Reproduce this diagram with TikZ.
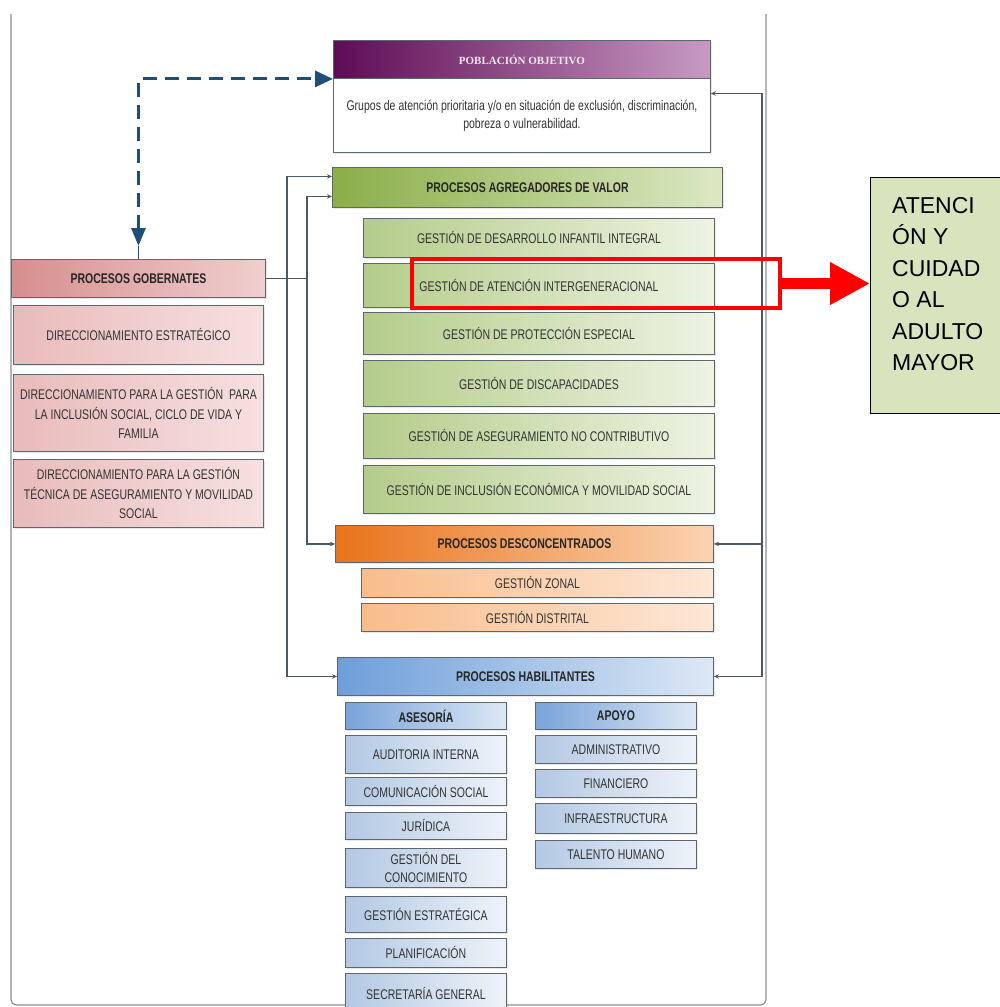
\documentclass[tikz,border=0pt]{standalone}
\usepackage{fontspec}
\setmainfont{Liberation Sans}
\newfontfamily\nar[FakeStretch=0.75]{Liberation Sans}
\newfontfamily\pobfont{Liberation Serif}
\usetikzlibrary{arrows.meta,shadows}

\definecolor{edge}{HTML}{5D6770}
\definecolor{wire}{HTML}{4D5863}
\definecolor{ink}{HTML}{333333}
\definecolor{navy}{HTML}{1F4E79}
\definecolor{framec}{HTML}{8A9095}
\definecolor{oldgreen}{HTML}{D7E4BD}

% box placed by its top-left and bottom-right corners
\newcommand{\procbox}[7]{%
  \pgfmathsetmacro\pbw{#4-#2}\pgfmathsetmacro\pbh{#5-#3}%
  \node[#6, minimum width=\pbw pt, minimum height=\pbh pt, anchor=north west] (#1) at (#2,#3) {#7};}

\tikzset{
  base/.style={draw=edge, line width=0.9pt, inner sep=0pt, align=center, text=ink,
    font=\nar\fontsize{14}{18}\selectfont,
    drop shadow={opacity=0.18, shadow xshift=1.2pt, shadow yshift=-1.2pt}},
  head/.style={base, font=\nar\bfseries\fontsize{14}{18}\selectfont, text=black!85},
  pobh/.style={head, left color=pobA, right color=pobB, text=pobT,
    font=\pobfont\bfseries\fontsize{11}{13}\selectfont},
  pobb/.style={base, fill=white},
  agrh/.style={head, left color=agrA, right color=agrB},
  agrs/.style={base, left color=agrC, right color=agrD},
  gobh/.style={head, left color=gobA, right color=gobB},
  gobs/.style={base, left color=gobC, right color=gobD},
  desh/.style={head, left color=desA, right color=desB},
  dess/.style={base, left color=desC, right color=desD},
  habh/.style={head, left color=habA, right color=habB},
  habt/.style={head, left color=habE, right color=habB},
  habs/.style={base, left color=habC, right color=habD},
  conn/.style={draw=wire, line width=1.1pt, arrows={-}},
  tip/.tip={Stealth[length=5pt,width=4.5pt]},
  dasharr/.style={draw=navy, line width=3pt, dash pattern=on 14pt off 8pt},
}
\definecolor{pobA}{HTML}{5E0C55}\definecolor{pobB}{HTML}{C79AC3}\definecolor{pobT}{HTML}{F4E6F2}
\definecolor{agrA}{HTML}{8AAE48}\definecolor{agrB}{HTML}{DCE8C4}
\definecolor{agrC}{HTML}{B4CC8A}\definecolor{agrD}{HTML}{EEF3E3}
\definecolor{gobA}{HTML}{D68E8E}\definecolor{gobB}{HTML}{F0CFCF}
\definecolor{gobC}{HTML}{E9BBBB}\definecolor{gobD}{HTML}{F7E0E0}
\definecolor{desA}{HTML}{E8731A}\definecolor{desB}{HTML}{FBD3B2}
\definecolor{desC}{HTML}{F8BD8C}\definecolor{desD}{HTML}{FDE7D6}
\definecolor{habA}{HTML}{6E9ED9}\definecolor{habB}{HTML}{DDE8F5}
\definecolor{habC}{HTML}{B3C8E3}\definecolor{habD}{HTML}{EEF3F9}
\definecolor{habE}{HTML}{79A3DA}

\begin{document}
\begin{tikzpicture}[x=1pt,y=-1pt]
\useasboundingbox[fill=white] (0,0) rectangle (999,1007);

% page frame, open at the top
\draw[framec, line width=1.2pt, rounded corners=6pt] (11,14) -- (11,1005) -- (766,1005) -- (766,14);

% target population
\procbox{pobhead}{333}{40}{710}{78}{pobh}{POBLACIÓN OBJETIVO}
\procbox{pobbody}{333}{78}{710}{152}{pobb}{Grupos de atención prioritaria y/o en situación de exclusión, discriminación,\\pobreza o vulnerabilidad.}

% value-adding processes
\procbox{agr}{332}{167}{722}{207}{agrh}{PROCESOS AGREGADORES DE VALOR}
\procbox{agrA1}{363}{218}{714}{257}{agrs}{GESTIÓN DE DESARROLLO INFANTIL INTEGRAL}
\procbox{agrA2}{363}{263}{714}{307}{agrs}{GESTIÓN DE ATENCIÓN INTERGENERACIONAL}
\procbox{agrA3}{363}{312}{714}{354}{agrs}{GESTIÓN DE PROTECCIÓN ESPECIAL}
\procbox{agrA4}{363}{360}{714}{406}{agrs}{GESTIÓN DE DISCAPACIDADES}
\procbox{agrA5}{363}{413}{714}{458}{agrs}{GESTIÓN DE ASEGURAMIENTO NO CONTRIBUTIVO}
\procbox{agrA6}{363}{465}{714}{513}{agrs}{GESTIÓN DE INCLUSIÓN ECONÓMICA Y MOVILIDAD SOCIAL}

% governing processes
\procbox{gob}{11}{259}{265}{297}{gobh}{PROCESOS GOBERNATES}
\procbox{gobG1}{13}{305}{263}{364}{gobs}{DIRECCIONAMIENTO ESTRATÉGICO}
\procbox{gobG2}{13}{374}{263}{451}{gobs,font=\nar\fontsize{14}{19.5}\selectfont}{DIRECCIONAMIENTO PARA LA GESTIÓN \ PARA\\LA INCLUSIÓN SOCIAL, CICLO DE VIDA Y\\FAMILIA}
\procbox{gobG3}{13}{459}{263}{527}{gobs,font=\nar\fontsize{14}{19.5}\selectfont}{DIRECCIONAMIENTO PARA LA GESTIÓN\\TÉCNICA DE ASEGURAMIENTO Y MOVILIDAD\\SOCIAL}

% deconcentrated processes
\procbox{des}{335}{525}{713}{562}{desh}{PROCESOS DESCONCENTRADOS}
\procbox{desD1}{361}{568}{713}{597}{dess}{GESTIÓN ZONAL}
\procbox{desD2}{361}{603}{713}{631}{dess}{GESTIÓN DISTRITAL}

% enabling processes
\procbox{hab}{337}{657}{713}{695}{habh}{PROCESOS HABILITANTES}
\procbox{ase}{345}{702}{506}{729}{habt}{ASESORÍA}
\procbox{apo}{535}{702}{696}{729}{habt}{APOYO}
\procbox{aseS1}{345}{735}{506}{773}{habs}{AUDITORIA INTERNA}
\procbox{aseS2}{345}{777}{506}{805}{habs}{COMUNICACIÓN SOCIAL}
\procbox{aseS3}{345}{812}{506}{839}{habs}{JURÍDICA}
\procbox{aseS4}{345}{848}{506}{887}{habs}{GESTIÓN DEL\\CONOCIMIENTO}
\procbox{aseS5}{345}{896}{506}{932}{habs}{GESTIÓN ESTRATÉGICA}
\procbox{aseS6}{345}{938}{506}{967}{habs}{PLANIFICACIÓN}
\procbox{aseS7}{345}{973}{506}{1013}{habs}{SECRETARÍA GENERAL}
\procbox{apoP1}{535}{735}{696}{763}{habs}{ADMINISTRATIVO}
\procbox{apoP2}{535}{769}{696}{797}{habs}{FINANCIERO}
\procbox{apoP3}{535}{803}{696}{833}{habs}{INFRAESTRUCTURA}
\procbox{apoP4}{535}{840}{696}{868}{habs}{TALENTO HUMANO}

% rails of the connectors
\coordinate (railA) at (287,0);
\coordinate (railB) at (307,0);
\coordinate (railR) at (762,0);

% governing processes feed the two left rails
\draw[conn] (gob.east) -- (railB |- gob.east);
\draw[conn, tip-tip] ([yshift=11pt]agr.west) -| (railA |- hab.west) -- (hab.west);
\draw[conn, tip-tip] ([yshift=-9pt]agr.west) -| (railB |- des.west) -- (des.west);

% right rail back to the population
\coordinate (pobhook) at ([yshift=22pt]pobbody.east);
\draw[conn, tip-tip] (hab.east) -| (railR |- pobhook) -- (pobhook);
\draw[conn, -tip] (railR |- des.east) -- (des.east);

% dashed link between governing processes and population
\coordinate (dashend) at ([yshift=13pt]gob.north);
\draw[navy, line width=1pt] (dashend) -- (gob.north);
\draw[dasharr, {Triangle[length=18pt,width=14pt]}-{Triangle[length=18pt,width=16pt]}] (dashend) |- (pobhead.south west);

% highlighted process and its note
\node[draw=red, line width=4pt, minimum width=368pt, minimum height=49pt, anchor=north west, inner sep=0pt] (hl) at (410,257) {};
\node[draw=black, line width=1.3pt, fill=oldgreen, minimum width=132pt, minimum height=236pt, anchor=north west, inner sep=0pt] (note) at (870,177) {};
\node[anchor=north west, inner sep=0pt, align=left, font=\fontsize{23}{31.5}\selectfont] (notetxt) at (892,197) {ATENCI\\ÓN Y\\CUIDAD\\O AL\\ADULTO\\MAYOR};
\draw[red, line width=11pt, -{Triangle[length=40pt,width=40pt]}] (hl.east) -- (note.west |- hl.east);
\end{tikzpicture}
\end{document}
